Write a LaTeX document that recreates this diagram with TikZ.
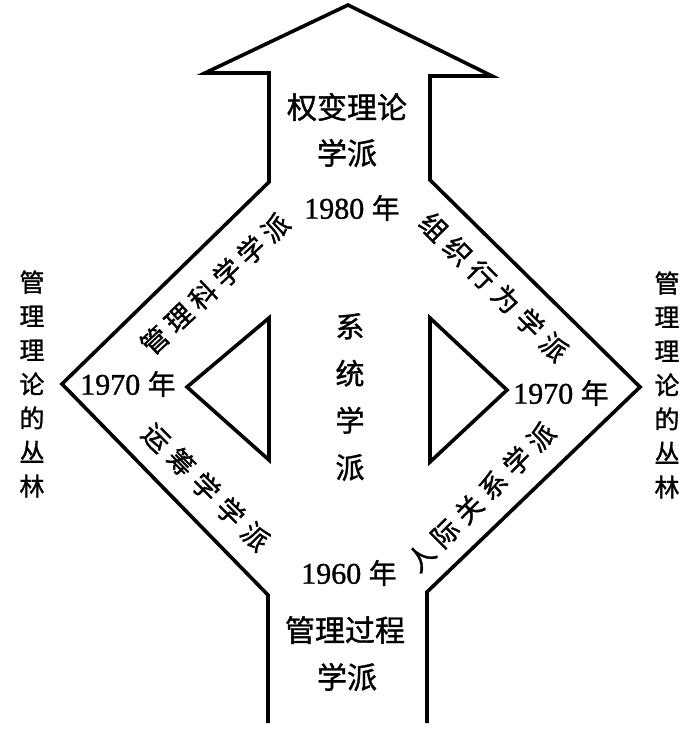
\documentclass[tikz,border=0pt]{standalone}
\usepackage{fontspec}
\setmainfont[FakeBold=1.2]{Liberation Serif}
\newfontfamily\cjk[FakeBold=1.2]{Noto Sans CJK SC}
\newcommand\ks[1]{\kern#1pt}
\newcommand\nian{{\cjk\fontsize{28}{28}\selectfont 年}}
\begin{document}
\begin{tikzpicture}[x=1pt,y=-1pt,
  outline/.style={line width=3.6pt,line join=miter,line cap=butt},
  tri/.style={line width=3.6pt,line join=miter},
  hlbl/.style={inner sep=0pt,font=\cjk\fontsize{30}{30}\selectfont},
  yr/.style={inner sep=0pt,font=\fontsize{30}{30}\selectfont},
  dlbl/.style={inner sep=0pt,font=\cjk\fontsize{27}{27}\selectfont},
  vlbl/.style={inner sep=0pt,align=center,font=\cjk\fontsize{25}{34}\selectfont},
  clbl/.style={inner sep=0pt,align=center,font=\cjk\fontsize{29}{47}\selectfont}]
\useasboundingbox (0,0) rectangle (685,731);
% outline coordinates
\coordinate (rb) at (427,723);
\coordinate (rs1) at (427,592);
\coordinate (rv) at (640,387);
\coordinate (rs2) at (430,180);
\coordinate (rs3) at (430,76);
\coordinate (rh) at (492,76);
\coordinate (tip) at (348,5);
\coordinate (lh) at (205,73);
\coordinate (ls3) at (269,73);
\coordinate (ls2) at (269,182);
\coordinate (lv) at (62,384);
\coordinate (ls1) at (268,595);
\coordinate (lb) at (268,723);
\draw[outline] (rb) -- (rs1) -- (rv) -- (rs2) -- (rs3) -- (rh) -- (tip) -- (lh) -- (ls3) -- (ls2) -- (lv) -- (ls1) -- (lb);
% triangles
\coordinate (lt1) at (269,318);
\coordinate (lt2) at (187,387);
\coordinate (lt3) at (269,460);
\draw[tri] (lt1) -- (lt2) -- (lt3) -- cycle;
\coordinate (rt1) at (430,318);
\coordinate (rt2) at (507,390);
\coordinate (rt3) at (430,462);
\draw[tri] (rt1) -- (rt2) -- (rt3) -- cycle;
% texts
\node[hlbl] (quan) at (347,107) {权变理论};
\node[hlbl] (quan2) at (347,153) {学派};
\node[yr] (y1980) at (352,208) {1980 \nian};
\node[clbl] (xitong) at (350,397) {系\\统\\学\\派};
\node[yr] (y1970l) at (128,384) {1970 \nian};
\node[yr] (y1970r) at (561,393) {1970 \nian};
\node[yr] (y1960) at (349,573) {1960 \nian};
\node[hlbl] (guocheng) at (345,630) {管理过程};
\node[hlbl] (guocheng2) at (347,677) {学派};
\node[vlbl] (cong1) at (32,384) {管\\理\\理\\论\\的\\丛\\林};
\node[vlbl] (cong2) at (667,385) {管\\理\\理\\论\\的\\丛\\林};
\node[dlbl,rotate=43] (kexue) at (215,284) {管\ks6理\ks6科\ks6学\ks6学\ks6派};
\node[dlbl,rotate=-45] (yunchou) at (206,487) {运\ks8筹\ks8学\ks8学\ks8派};
\node[dlbl,rotate=-45] (zuzhi) at (494,287) {组\ks7织\ks7行\ks7为\ks7学\ks7派};
\node[dlbl,rotate=45] (renji) at (481,497) {人\ks7际\ks7关\ks7系\ks7学\ks7派};
\end{tikzpicture}
\end{document}
